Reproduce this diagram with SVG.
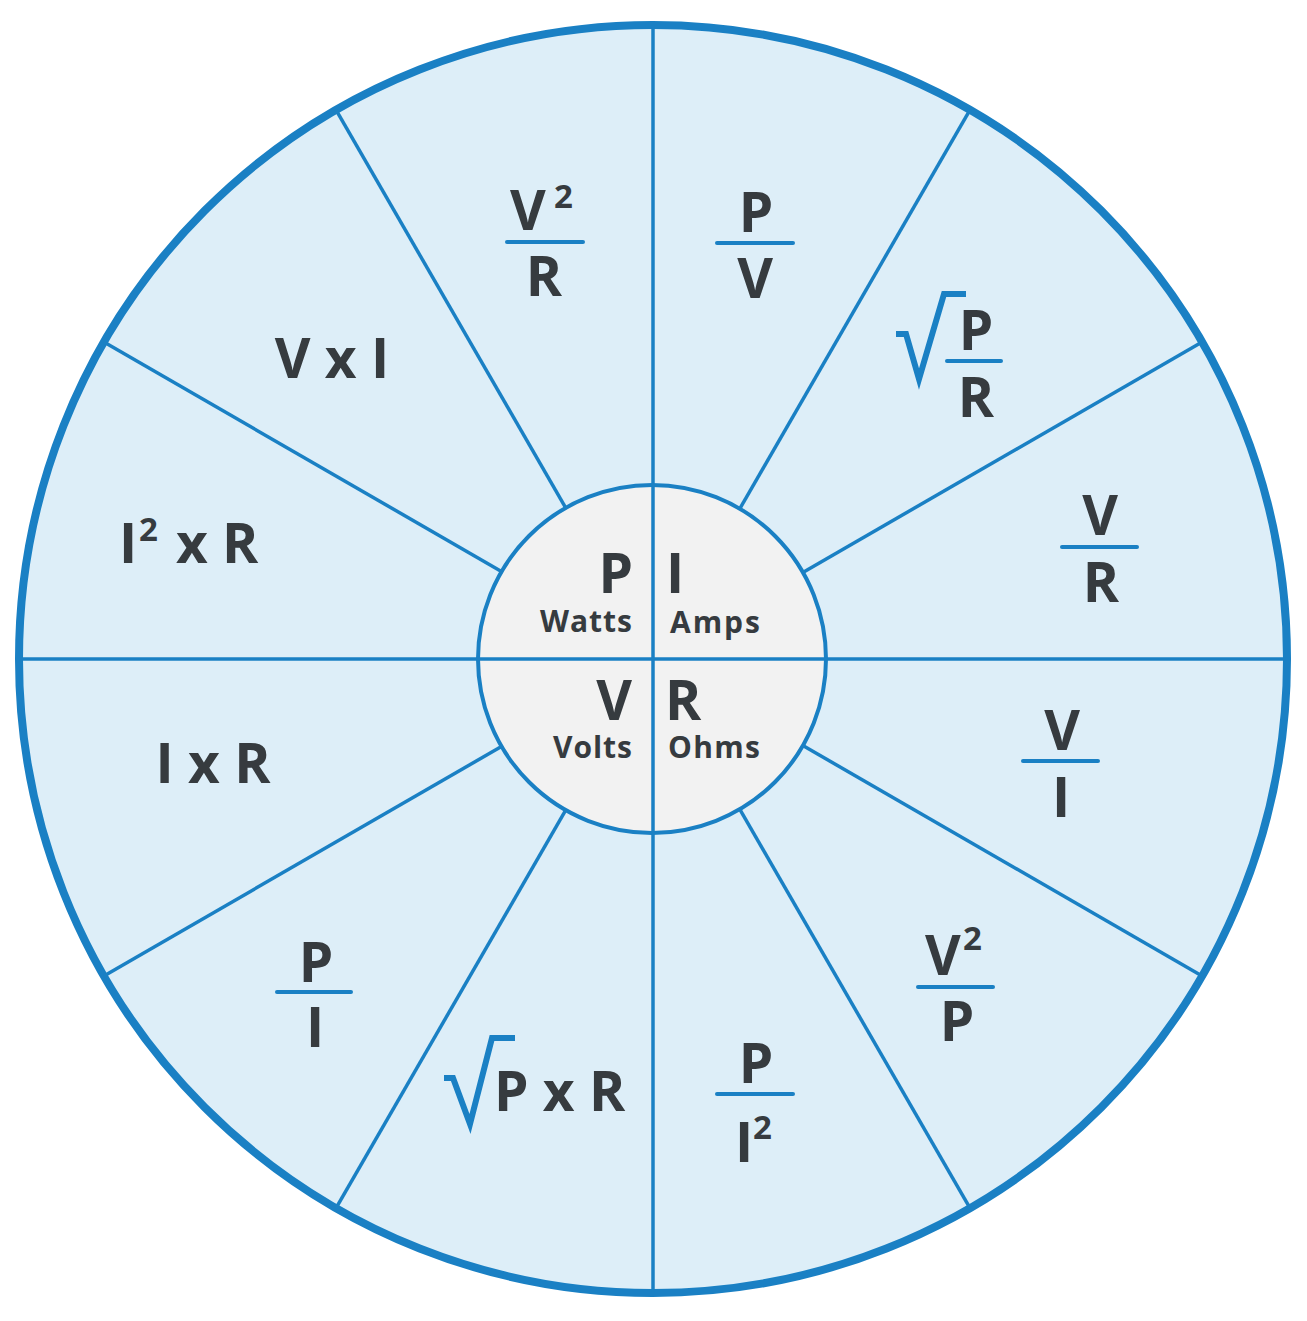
<svg xmlns="http://www.w3.org/2000/svg" width="1307" height="1321" viewBox="0 0 1307 1321">
<style>
.t{font-family:"Open Sans","Liberation Sans",sans-serif;font-weight:700;fill:#363b3f;font-size:55px}
.s{font-size:33px}
.lab{font-family:"Open Sans","Liberation Sans",sans-serif;font-weight:700;fill:#363b3f;font-size:30px}
.m{text-anchor:middle}
.e{text-anchor:end}
.bar{stroke:#1a80c4;stroke-width:4;stroke-linecap:round}
.rad{fill:none;stroke:#1a80c4;stroke-width:6;stroke-linejoin:miter}
.sp{stroke:#1a80c4;stroke-width:3.5}
</style>
<rect width="1307" height="1321" fill="#ffffff"/>
<g id="wheel">
<circle cx="653" cy="659" r="634" fill="#ddeef8" stroke="#1a80c4" stroke-width="8"/>
</g>
<g id="connectors">
<line class="sp" x1="653" y1="25" x2="653" y2="1293"/>
<line class="sp" x1="19" y1="659" x2="1287" y2="659"/>
<line class="sp" x1="803.7" y1="746" x2="1202.1" y2="976"/>
<line class="sp" x1="803.7" y1="572" x2="1202.1" y2="342"/>
<line class="sp" x1="740" y1="809.7" x2="970" y2="1208.1"/>
<line class="sp" x1="740" y1="508.3" x2="970" y2="109.9"/>
<line class="sp" x1="566" y1="809.7" x2="336" y2="1208.1"/>
<line class="sp" x1="566" y1="508.3" x2="336" y2="109.9"/>
<line class="sp" x1="502.3" y1="746" x2="103.9" y2="976"/>
<line class="sp" x1="502.3" y1="572" x2="103.9" y2="342"/>
</g>
<g id="hub">
<circle cx="652" cy="659" r="174" fill="#f2f2f2" stroke="#1a80c4" stroke-width="4"/>
<line class="sp" x1="653" y1="485" x2="653" y2="833"/>
<line class="sp" x1="478" y1="659" x2="826" y2="659"/>
<text class="t e" x="633" y="593">P</text>
<text class="lab" x="540" y="632" textLength="92" lengthAdjust="spacing">Watts</text>
<text class="t" x="666" y="593">I</text>
<text class="lab" x="670" y="633" textLength="90" lengthAdjust="spacing">Amps</text>
<text class="t e" x="632" y="720">V</text>
<text class="lab" x="553" y="758" textLength="79" lengthAdjust="spacing">Volts</text>
<text class="t" x="665" y="720">R</text>
<text class="lab" x="668" y="758" textLength="92" lengthAdjust="spacing">Ohms</text>
</g>
<g id="f-v2-r">
<text class="t" x="510" y="230">V</text>
<text class="t s" x="554" y="208">2</text>
<line class="bar" x1="507" y1="242" x2="583" y2="242"/>
<text class="t m" x="544" y="296">R</text>
</g>
<g id="f-p-v">
<text class="t m" x="756" y="232">P</text>
<line class="bar" x1="717" y1="243" x2="793" y2="243"/>
<text class="t m" x="755" y="298">V</text>
</g>
<g id="f-sqrt-p-r">
<path class="rad" d="M896,334 L906,334 L919,379 L944,294 L966,294"/>
<text class="t m" x="976" y="350">P</text>
<line class="bar" x1="947" y1="361" x2="1001" y2="361"/>
<text class="t m" x="976" y="417">R</text>
</g>
<g id="f-v-r">
<text class="t m" x="1100" y="535">V</text>
<line class="bar" x1="1062" y1="547" x2="1137" y2="547"/>
<text class="t m" x="1101" y="602">R</text>
</g>
<g id="f-v-i">
<text class="t m" x="1062" y="750">V</text>
<line class="bar" x1="1023" y1="761" x2="1098" y2="761"/>
<text class="t m" x="1061" y="817">I</text>
</g>
<g id="f-v2-p">
<text class="t" x="925" y="975">V</text>
<text class="t s" x="963" y="950">2</text>
<line class="bar" x1="918" y1="987" x2="993" y2="987"/>
<text class="t m" x="957" y="1041">P</text>
</g>
<g id="f-p-i2">
<text class="t m" x="756" y="1083">P</text>
<line class="bar" x1="717" y1="1094" x2="793" y2="1094"/>
<text class="t" x="735" y="1162">I</text>
<text class="t s" x="753" y="1139">2</text>
</g>
<g id="f-sqrt-pxr">
<path class="rad" d="M444,1078 L453,1078 L470,1124 L492,1038 L515,1038"/>
<text class="t" x="494" y="1111">P x R</text>
</g>
<g id="f-p-i">
<text class="t m" x="316" y="982">P</text>
<line class="bar" x1="277" y1="992" x2="351" y2="992"/>
<text class="t m" x="315" y="1047">I</text>
</g>
<g id="f-ixr">
<text class="t m" x="213" y="783">I x R</text>
</g>
<g id="f-i2xr">
<text class="t" x="119" y="563">I</text>
<text class="t s" x="139" y="541">2</text>
<text class="t" x="176" y="563">x R</text>
</g>
<g id="f-vxi">
<text class="t m" x="332" y="378">V x I</text>
</g>
</svg>
